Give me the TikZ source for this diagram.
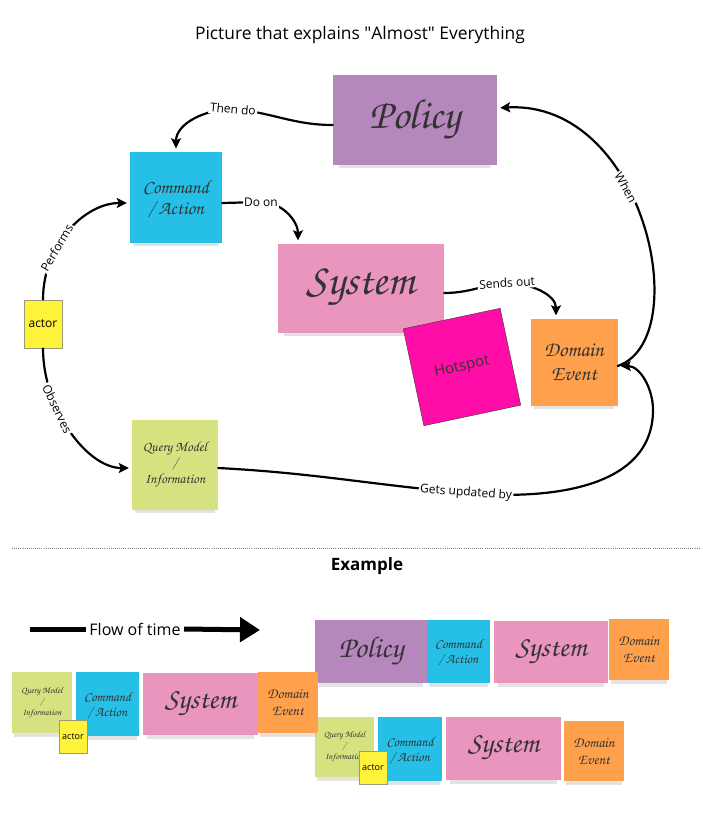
\documentclass[tikz,border=0pt]{standalone}
\usepackage[T1]{fontenc}
\usepackage{fontspec}
\setmainfont{Open Sans}
\usetikzlibrary{arrows.meta,shadows}
\newcommand\hand[2]{\fontencoding{T1}\fontfamily{pzc}\fontsize{#1}{#2}\selectfont}
\newcommand\sans[1]{\fontsize{#1}{#1}\selectfont}
\definecolor{policyc}{HTML}{B687BC}
\definecolor{cmdc}{HTML}{25BFE7}
\definecolor{sysc}{HTML}{E995BD}
\definecolor{eventc}{HTML}{FFA04C}
\definecolor{queryc}{HTML}{D6E27F}
\definecolor{actorc}{HTML}{FFF23B}
\definecolor{actorb}{HTML}{9A9A78}
\definecolor{hotc}{HTML}{FF0DA7}
\definecolor{inkc}{HTML}{333333}
\begin{document}
\begin{tikzpicture}[x=1pt,y=1pt,line join=round,line cap=round,>={Stealth[length=10pt,width=10pt,inset=2pt]},
 sticky/.style={rectangle,inner sep=0pt,align=center,text=inkc,drop shadow={shadow xshift=0pt,shadow yshift=-7pt,shadow scale=0.93,opacity=0.22}},
 policy/.style={sticky,fill=policyc},
 command/.style={sticky,fill=cmdc},
 system/.style={sticky,fill=sysc},
 event/.style={sticky,fill=eventc},
 query/.style={sticky,fill=queryc},
 actor/.style={rectangle,draw=actorb,fill=actorc,inner sep=0pt,line width=0.8pt},
 conn/.style={->,line width=2.2pt,shorten >=3pt},
 lbl/.style={fill=white,inner sep=1.5pt,font=\sans{12}}]
\useasboundingbox (0,0) rectangle (702,-830);
\node[font=\sans{17.4}] (title) at (360,-35) {Picture that explains \textquotedbl Almost\textquotedbl{} Everything};

\node[policy,minimum width=164pt,minimum height=90pt,font=\hand{42}{44}] (policy) at (415,-120) {Policy};
\node[command,minimum width=92pt,minimum height=91pt,font=\hand{19}{21}] (cmd) at (176,-197) {Command\\/ Action};
\node[system,minimum width=166pt,minimum height=89pt,font=\hand{44}{46}] (sys) at (361,-288) {System};
\node[rectangle,draw=inkc,fill=hotc,minimum size=99pt,rotate=12,text=inkc,font=\sans{15}] (hot) at (462,-367) {Hotspot};
\node[event,minimum width=87pt,minimum height=87pt,font=\hand{21}{24}] (de) at (574,-362) {Domain\\Event};
\node[actor,minimum width=38pt,minimum height=48pt,font=\sans{12}] (act) at (43,-324) {actor};
\node[query,minimum width=86pt,minimum height=90pt,font=\hand{14}{16}] (query) at (175,-465) {Query Model\\/\\Information};

\draw[conn] ([yshift=-5pt]policy.west) to[out=180,in=-5] (233,-109) node[lbl,rotate=-5]{Then do} to[out=180,in=90] (cmd.north);
\draw[conn] ([yshift=-6pt]cmd.east) -- (261,-202) node[lbl]{Do on} to[out=0,in=90] ([xshift=-63pt]sys.north);
\draw[conn] (act.north) .. controls +(0,55) and +(-45,0) .. node[lbl,sloped,pos=0.35]{Performs} ([yshift=-6pt]cmd.west);
\draw[conn] (act.south) .. controls +(0,-60) and +(-45,0) .. node[lbl,sloped,pos=0.35]{Observes} ([yshift=-3pt]query.west);
\draw[conn] ([yshift=-5pt]sys.east) to[out=0,in=185] (507,-283) node[lbl,rotate=4]{Sends out} to[out=0,in=90] ([xshift=-18pt]de.north);
\draw[conn] ([yshift=-4pt]de.east) .. controls +(78,27) and +(148,8) .. node[lbl,sloped,pos=0.6]{When} ([yshift=12pt]policy.east);
\draw[conn] ([yshift=-3pt]query.east) to[out=-3,in=175] (466,-493) node[lbl,rotate=-4]{Gets updated by} to[out=-5,in=-90] (653,-410) to[out=90,in=0] ([yshift=-4pt]de.east);

\draw[gray,line width=0.7pt,line cap=butt,dash pattern=on 0.7pt off 1.4pt] (12,-548) -- (700,-548);
\node[font=\bfseries\sans{17}] (example) at (367,-566) {Example};

\coordinate (t0) at (30,-629);
\coordinate (t1) at (260,-630);
\node[font=\sans{16}] (flow) at (135,-629) {Flow of time};
\draw[line width=5pt,line cap=butt] (t0) -- (flow.west);
\draw[line width=5pt,line cap=butt,-{Triangle[length=20pt 0 0,width=24pt 0 0]}] (flow.east) -- (t1);

\node[query,minimum width=59pt,minimum height=60pt,font=\hand{9}{11}] (q3) at (344.5,-747) {Query Model\\/\\Information};
\node[command,minimum width=64pt,minimum height=64pt,font=\hand{13.5}{15}] (c3) at (410,-749) {Command\\/ Action};
\node[system,minimum width=115pt,minimum height=63pt,font=\hand{29}{31}] (s3) at (503.5,-748.5) {System};
\node[event,minimum width=60pt,minimum height=60pt,font=\hand{14.5}{17}] (e3) at (594,-751) {Domain\\Event};
\node[actor,minimum width=28pt,minimum height=33pt,font=\sans{9}] (a3) at (373,-767.5) {actor};

\node[policy,minimum width=112pt,minimum height=63pt,font=\hand{30}{32}] (p2) at (371,-651.5) {Policy};
\node[command,minimum width=63pt,minimum height=63pt,font=\hand{13.5}{15}] (c2) at (458.5,-651.5) {Command\\/ Action};
\node[system,minimum width=114pt,minimum height=62pt,font=\hand{29}{31}] (s2) at (551,-652) {System};
\node[event,minimum width=60pt,minimum height=61pt,font=\hand{14.5}{17}] (e2) at (639,-649.5) {Domain\\Event};

\node[query,minimum width=60pt,minimum height=61pt,font=\hand{9}{11}] (q1) at (42,-702.5) {Query Model\\/\\Information};
\node[command,minimum width=63pt,minimum height=64pt,font=\hand{13.5}{15}] (c1) at (107.5,-704) {Command\\/ Action};
\node[system,minimum width=115pt,minimum height=62pt,font=\hand{29}{31}] (s1) at (200.5,-704) {System};
\node[event,minimum width=60pt,minimum height=61pt,font=\hand{14.5}{17}] (e1) at (288,-702.5) {Domain\\Event};
\node[actor,minimum width=28pt,minimum height=33pt,font=\sans{9}] (a1) at (73,-736.5) {actor};
\end{tikzpicture}
\end{document}
